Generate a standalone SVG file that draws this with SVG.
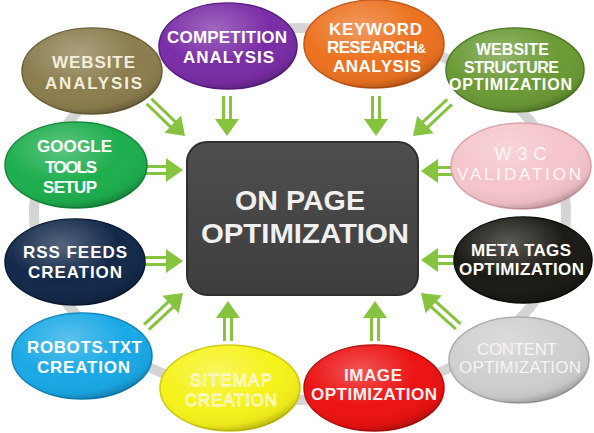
<svg xmlns="http://www.w3.org/2000/svg" xmlns:xlink="http://www.w3.org/1999/xlink" width="594" height="433" viewBox="0 0 594 433">
<defs>
<style>
.t{font-family:"Liberation Sans",Arial,sans-serif;font-weight:bold;font-size:17px;text-anchor:middle;fill:#ffffff}
.thin{font-weight:normal}
.nd{stroke-width:1.5}
.ring{fill:none;stroke:#d4d4d4;stroke-width:10}
.arrow-shaft{stroke:#86c440;stroke-width:3;fill:none}
.arrow-head{fill:#86c440}
.big{font-family:"Liberation Sans",Arial,sans-serif;font-weight:bold;font-size:28px;text-anchor:middle;fill:#f0f0f0}
</style>
<radialGradient id="shine" cx="0.4" cy="0.3" r="0.75">
<stop offset="0" stop-color="#ffffff" stop-opacity="0.28"/>
<stop offset="0.55" stop-color="#ffffff" stop-opacity="0"/>
<stop offset="0.85" stop-color="#000000" stop-opacity="0.05"/>
<stop offset="1" stop-color="#000000" stop-opacity="0.3"/>
</radialGradient>
<linearGradient id="boxg" x1="0" y1="0" x2="0" y2="1">
<stop offset="0" stop-color="#4e4e4e"/>
<stop offset="1" stop-color="#3e3e3e"/>
</linearGradient>
<g id="arr">
<path class="arrow-shaft" d="M-40,-3.5H-15M-40,3.5H-15"/>
<polygon class="arrow-head" points="0,0 -17,-12 -17,12"/>
</g>
<g id="arrL">
<path class="arrow-shaft" d="M-50,-3.5H-15M-50,3.5H-15"/>
<polygon class="arrow-head" points="0,0 -17,-12 -17,12"/>
</g>
</defs>
<rect width="594" height="433" fill="#ffffff"/>
<ellipse class="ring" cx="300" cy="214" rx="266" ry="186"/>

<g id="connectors">
<use href="#arrL" transform="translate(185,136) rotate(44)"/>
<use href="#arr" transform="translate(227,136) rotate(90)"/>
<use href="#arr" transform="translate(376,136) rotate(90)"/>
<use href="#arrL" transform="translate(413,136) rotate(137)"/>
<use href="#arr" transform="translate(421,171) rotate(180)"/>
<use href="#arr" transform="translate(421,260) rotate(180)"/>
<use href="#arrL" transform="translate(421,293) rotate(222)"/>
<use href="#arr" transform="translate(375,301) rotate(-90)"/>
<use href="#arr" transform="translate(228,301) rotate(-90)"/>
<use href="#arrL" transform="translate(183,293) rotate(-43)"/>
<use href="#arr" transform="translate(183,261)"/>
<use href="#arr" transform="translate(183,170)"/>
</g>

<g id="center">
<rect x="187" y="142" width="231" height="153" rx="20" fill="url(#boxg)" stroke="#2e2e2e" stroke-width="2"/>
<text class="big" x="300" y="210" textLength="130" lengthAdjust="spacingAndGlyphs">ON PAGE</text>
<text class="big" x="305" y="243" textLength="208" lengthAdjust="spacingAndGlyphs">OPTIMIZATION</text>
</g>

<g id="website-analysis">
<ellipse class="nd" cx="92" cy="71" rx="70" ry="43" fill="#8b7d4e" stroke="#6e6238"/>
<ellipse cx="92" cy="71" rx="70" ry="43" fill="url(#shine)"/>
<text class="t" x="93.5" y="68" textLength="83" style="fill:#f3eedb">WEBSITE</text>
<text class="t" x="93.5" y="89" textLength="97" style="fill:#f3eedb">ANALYSIS</text>
</g>

<g id="competition-analysis">
<ellipse class="nd" cx="228" cy="46" rx="69" ry="43" fill="#7a2da6" stroke="#5a1c80"/>
<ellipse cx="228" cy="46" rx="69" ry="43" fill="url(#shine)"/>
<text class="t" x="227" y="43" textLength="120">COMPETITION</text>
<text class="t" x="228.5" y="63" textLength="91">ANALYSIS</text>
</g>

<g id="keyword-research">
<ellipse class="nd" cx="374" cy="44" rx="70" ry="44" fill="#ec7220" stroke="#c2561a"/>
<ellipse cx="374" cy="44" rx="70" ry="44" fill="url(#shine)"/>
<text class="t" x="375.5" y="35" textLength="93">KEYWORD</text>
<text class="t" x="376.5" y="53" textLength="99">RESEARCH<tspan style="font-size:12px">&amp;</tspan></text>
<text class="t" x="377" y="72" textLength="88">ANALYSIS</text>
</g>

<g id="website-structure">
<ellipse class="nd" cx="515" cy="70" rx="69" ry="42" fill="#6b9a35" stroke="#4e7826"/>
<ellipse cx="515" cy="70" rx="69" ry="42" fill="url(#shine)"/>
<text class="t" x="512.5" y="55" textLength="73" style="font-size:16px">WEBSITE</text>
<text class="t" x="511.5" y="73" textLength="95" style="font-size:16px">STRUCTURE</text>
<text class="t" x="510.5" y="90" textLength="123" style="font-size:16px">OPTIMIZATION</text>
</g>

<g id="w3c-validation">
<ellipse class="nd" cx="521" cy="166" rx="70" ry="43" fill="#f5c5cb" stroke="#d9a3aa"/>
<ellipse cx="521" cy="166" rx="70" ry="43" fill="url(#shine)"/>
<text class="t thin" x="520.5" y="160" textLength="52" style="fill:#fff5f6;font-size:18px">W3C</text>
<text class="t thin" x="519" y="180" textLength="124" style="fill:#fff5f6">VALIDATION</text>
</g>

<g id="meta-tags">
<ellipse class="nd" cx="523" cy="260" rx="69" ry="43" fill="#1c1a14" stroke="#0c0b08"/>
<ellipse cx="523" cy="260" rx="69" ry="43" fill="url(#shine)"/>
<text class="t" x="521" y="256" textLength="100">META TAGS</text>
<text class="t" x="521.5" y="275" textLength="125">OPTIMIZATION</text>
</g>

<g id="content-optimization">
<ellipse class="nd" cx="519" cy="360" rx="70" ry="43" fill="#cfcfcf" stroke="#aaaaaa"/>
<ellipse cx="519" cy="360" rx="70" ry="43" fill="url(#shine)"/>
<text class="t thin" x="517" y="355" textLength="80" style="fill:#f4f4f4">CONTENT</text>
<text class="t thin" x="520" y="373" textLength="122" style="fill:#f4f4f4">OPTIMIZATION</text>
</g>

<g id="image-optimization">
<ellipse class="nd" cx="374" cy="388" rx="70" ry="43" fill="#ec1212" stroke="#b80c0c"/>
<ellipse cx="374" cy="388" rx="70" ry="43" fill="url(#shine)"/>
<text class="t" x="373" y="381" textLength="58" style="fill:#fff0f0">IMAGE</text>
<text class="t" x="374" y="400" textLength="126" style="fill:#fff0f0">OPTIMIZATION</text>
</g>

<g id="sitemap-creation">
<ellipse class="nd" cx="230" cy="388" rx="70" ry="43" fill="#f6f21b" stroke="#cfc90e"/>
<ellipse cx="230" cy="388" rx="70" ry="43" fill="url(#shine)"/>
<text class="t thin" x="231" y="386" textLength="82" style="fill:#e9e45a;stroke:#fffde8;stroke-width:0.8">SITEMAP</text>
<text class="t thin" x="231" y="406" textLength="92" style="fill:#e9e45a;stroke:#fffde8;stroke-width:0.8">CREATION</text>
</g>

<g id="robots-txt">
<ellipse class="nd" cx="82" cy="356" rx="70" ry="43" fill="#1aa9e6" stroke="#0f86bd"/>
<ellipse cx="82" cy="356" rx="70" ry="43" fill="url(#shine)"/>
<text class="t" x="84.5" y="353" textLength="115">ROBOTS.TXT</text>
<text class="t" x="83.5" y="373" textLength="93">CREATION</text>
</g>

<g id="rss-feeds">
<ellipse class="nd" cx="75" cy="262" rx="70" ry="43" fill="#13294a" stroke="#0a1a33"/>
<ellipse cx="75" cy="262" rx="70" ry="43" fill="url(#shine)"/>
<text class="t" x="75" y="258" textLength="104">RSS FEEDS</text>
<text class="t" x="75" y="278" textLength="94">CREATION</text>
</g>

<g id="google-tools">
<ellipse class="nd" cx="76" cy="165" rx="71" ry="43" fill="#1eae4e" stroke="#13893a"/>
<ellipse cx="76" cy="165" rx="71" ry="43" fill="url(#shine)"/>
<text class="t" x="74.5" y="152" textLength="75">GOOGLE</text>
<text class="t" x="71" y="173" textLength="52">TOOLS</text>
<text class="t" x="70" y="193" textLength="54">SETUP</text>
</g>
</svg>
